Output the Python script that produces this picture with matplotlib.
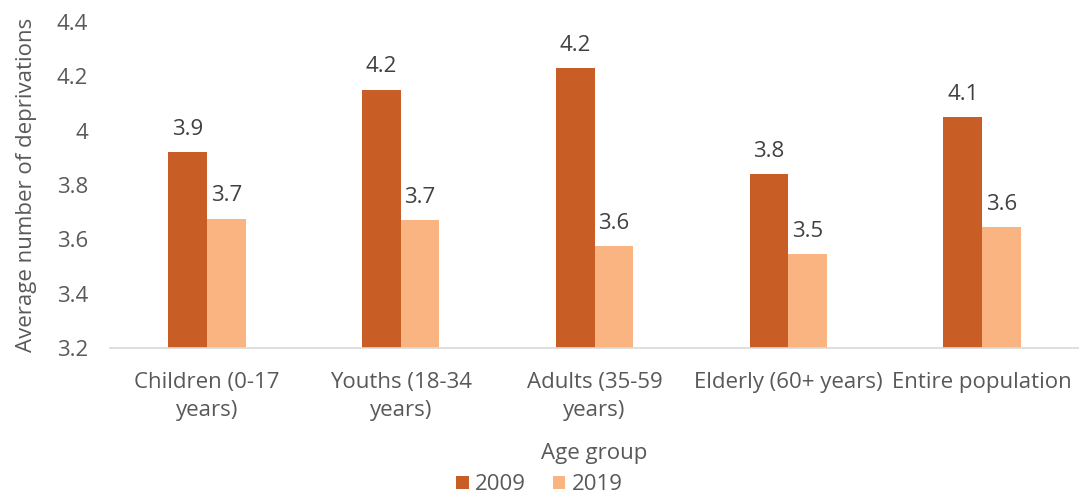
import matplotlib.pyplot as plt
import numpy as np

groups = ["Children (0-17\nyears)", "Youths (18-34\nyears)", "Adults (35-59\nyears)",
          "Elderly (60+ years)", "Entire population"]
vals_2009 = [3.92, 4.15, 4.23, 3.84, 4.05]
vals_2019 = [3.675, 3.67, 3.575, 3.545, 3.645]
labels_2009 = ["3.9", "4.2", "4.2", "3.8", "4.1"]
labels_2019 = ["3.7", "3.7", "3.6", "3.5", "3.6"]

plt.rcParams['font.family'] = ['Open Sans', 'DejaVu Sans']
text_col = '#595959'
fs = 16

fig = plt.figure(figsize=(10.79, 4.98), dpi=100)
ax = fig.add_axes([0.102, 0.301, 0.898, 0.655])

x = np.arange(len(groups))
w = 0.2
b1 = ax.bar(x - w / 2, np.array(vals_2009) - 3.2, w, bottom=3.2, color='#C95D26', label='2009')
b2 = ax.bar(x + w / 2, np.array(vals_2019) - 3.2, w, bottom=3.2, color='#F9B482', label='2019')

for xi, v, t in zip(x - w / 2, vals_2009, labels_2009):
    ax.annotate(t, (xi, v), xytext=(0, 9), textcoords='offset points', ha='center',
                va='bottom', fontsize=fs, color='#404040')
for xi, v, t in zip(x + w / 2, vals_2019, labels_2019):
    ax.annotate(t, (xi, v), xytext=(0, 9), textcoords='offset points', ha='center',
                va='bottom', fontsize=fs, color='#404040')

ax.set_ylim(3.2, 4.4)
ax.set_xlim(-0.5, 4.5)
ax.set_yticks([3.2, 3.4, 3.6, 3.8, 4.0, 4.2, 4.4])
ax.set_yticklabels(["3.2", "3.4", "3.6", "3.8", "4", "4.2", "4.4"])
ax.set_xticks(x)
ax.set_xticklabels(groups, linespacing=1.45)
ax.tick_params(axis='both', length=0, labelsize=fs, labelcolor=text_col)
ax.tick_params(axis='y', pad=16)
ax.tick_params(axis='x', pad=17)
for s in ['top', 'right', 'left']:
    ax.spines[s].set_visible(False)
ax.spines['bottom'].set_color('#D9D9D9')
ax.spines['bottom'].set_linewidth(1.2)

ax.set_xlabel("Age group", fontsize=fs, color=text_col, labelpad=16)
ax.set_ylabel("Average number of deprivations", fontsize=fs, color=text_col, labelpad=14)

fig.legend(handles=[b1, b2], loc='lower center', bbox_to_anchor=(0.5, -0.035), ncol=2,
           frameon=False, fontsize=fs, labelcolor=text_col, handlelength=0.55,
           handleheight=0.55, handletextpad=0.3, columnspacing=1.2)

fig.savefig('out.png', dpi=100)
